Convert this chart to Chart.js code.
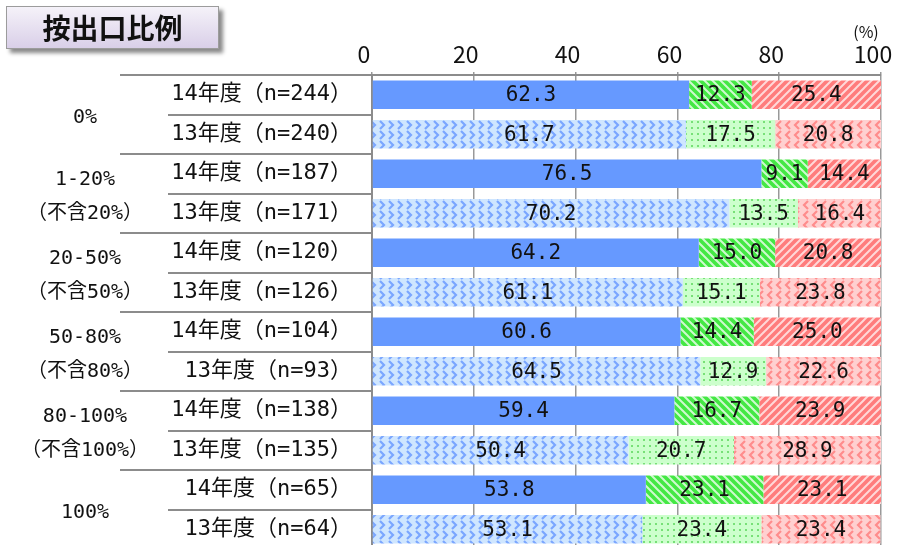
<!DOCTYPE html>
<html>
<head>
<meta charset="utf-8">
<script src="https://cdn.jsdelivr.net/npm/chart.js@4"></script>
<style>
  html, body { margin: 0; padding: 0; background: #fff; overflow: hidden; width: 899px; height: 545px; }
  #chart { position: absolute; left: 0; top: 0; }
  .title {
    position: absolute; left: 6px; top: 6px; width: 211px; height: 41px;
    border: 1px solid #9c9c9c;
    background: linear-gradient(#f5f2f9, #d9cfe8);
    box-shadow: 4px 4px 4px #8a8a8a;
    font: bold 28px "Noto Sans CJK JP", sans-serif;
    line-height: 41px; text-align: center; color: #111; z-index: 2;
  }
</style>
</head>
<body>
<div class="title">按出口比例</div>
<canvas id="chart" width="899" height="560"></canvas>
<script>
const rowLabels = [
  '14年度（n=244）', '13年度（n=240）',
  '14年度（n=187）', '13年度（n=171）',
  '14年度（n=120）', '13年度（n=126）',
  '14年度（n=104）', '13年度（n=93）',
  '14年度（n=138）', '13年度（n=135）',
  '14年度（n=65）', '13年度（n=64）'
];
const groupLabels = [
  ['0%'],
  ['1-20%', '（不含20%）'],
  ['20-50%', '（不含50%）'],
  ['50-80%', '（不含80%）'],
  ['80-100%', '（不含100%）'],
  ['100%']
];
const seriesA = [62.3, 61.7, 76.5, 70.2, 64.2, 61.1, 60.6, 64.5, 59.4, 50.4, 53.8, 53.1];
const seriesB = [12.3, 17.5, 9.1, 13.5, 15.0, 15.1, 14.4, 12.9, 16.7, 20.7, 23.1, 23.4];
const seriesC = [25.4, 20.8, 14.4, 16.4, 20.8, 23.8, 25.0, 22.6, 23.9, 28.9, 23.1, 23.4];
const xTicks = [0, 20, 40, 60, 80, 100];

const canvas = document.getElementById('chart');
const ctx = canvas.getContext('2d');

function makePattern(w, h, base, draw) {
  const c = document.createElement('canvas');
  c.width = w; c.height = h;
  const g = c.getContext('2d');
  g.fillStyle = base;
  g.fillRect(0, 0, w, h);
  draw(g);
  return ctx.createPattern(c, 'repeat');
}

// 14年度 / 13年度 fills
const blueSolid = '#6699ff';
const blueChevron = makePattern(9, 10, '#cfe6ff', g => {
  g.strokeStyle = '#7aa6ff'; g.lineWidth = 2.2;
  g.beginPath(); g.moveTo(2, 1); g.lineTo(6, 5); g.lineTo(2, 9); g.stroke();
});
const greenStripe = makePattern(8, 8, '#44e844', g => {
  g.strokeStyle = 'rgba(255,255,255,0.75)'; g.lineWidth = 2;
  g.beginPath(); g.moveTo(0, 0); g.lineTo(8, 8);
  g.moveTo(-4, 4); g.lineTo(4, 12); g.moveTo(4, -4); g.lineTo(12, 4); g.stroke();
});
const greenDots = makePattern(6, 6, '#ccffcc', g => {
  g.fillStyle = '#77e077'; g.fillRect(1, 1, 2, 2);
});
const redStripe = makePattern(8, 8, '#ff7c7c', g => {
  g.strokeStyle = 'rgba(255,255,255,0.7)'; g.lineWidth = 2;
  g.beginPath(); g.moveTo(0, 8); g.lineTo(8, 0);
  g.moveTo(-4, 4); g.lineTo(4, -4); g.moveTo(4, 12); g.lineTo(12, 4); g.stroke();
});
const redChevron = makePattern(9, 10, '#ffd0d0', g => {
  g.strokeStyle = '#ff8c8c'; g.lineWidth = 2.2;
  g.beginPath(); g.moveTo(7, 1); g.lineTo(3, 5); g.lineTo(7, 9); g.stroke();
});

const alt = (a, b) => rowLabels.map((_, i) => i % 2 === 0 ? a : b);

const monoFont = '"DejaVu Sans Mono", "Noto Sans CJK JP", sans-serif';

// 数値ラベル
const valueLabels = {
  id: 'valueLabels',
  afterDatasetsDraw(chart) {
    const c = chart.ctx;
    c.save();
    c.font = '21px ' + monoFont;
    c.fillStyle = '#111';
    c.textAlign = 'center';
    c.textBaseline = 'middle';
    chart.data.datasets.forEach((ds, di) => {
      chart.getDatasetMeta(di).data.forEach((bar, i) => {
        c.fillText(ds.data[i].toFixed(1), (bar.x + bar.base) / 2, bar.y + 1);
      });
    });
    c.restore();
  }
};

// 左側の区切り線とグループ名
const leftTable = {
  id: 'leftTable',
  afterDraw(chart) {
    const c = chart.ctx;
    const y = chart.scales.y;
    const left = chart.chartArea.left;
    const step = y.getPixelForValue(1) - y.getPixelForValue(0);
    c.save();
    c.strokeStyle = '#8c8c8c';
    c.lineWidth = 2;
    for (let i = 0; i <= rowLabels.length; i++) {
      const py = Math.round(y.getPixelForValue(i) - step / 2);
      c.beginPath();
      c.moveTo(i % 2 === 0 ? 120 : 168, py);
      c.lineTo(left, py);
      c.stroke();
    }
    c.font = '20px ' + monoFont;
    c.fillStyle = '#111';
    c.textAlign = 'center';
    c.textBaseline = 'middle';
    groupLabels.forEach((lines, gi) => {
      const cy = (y.getPixelForValue(gi * 2) + y.getPixelForValue(gi * 2 + 1)) / 2;
      const off = lines.length === 1 ? [3] : [-14, 20];
      lines.forEach((t, li) => c.fillText(t, 85, cy + off[li]));
    });
    c.font = '16px "Noto Sans CJK JP", sans-serif';
    c.fillText('(%)', 866, 32);
    c.restore();
  }
};

new Chart(ctx, {
  type: 'bar',
  data: {
    labels: rowLabels,
    datasets: [
      { data: seriesA, backgroundColor: alt(blueSolid, blueChevron) },
      { data: seriesB, backgroundColor: alt(greenStripe, greenDots) },
      { data: seriesC, backgroundColor: alt(redStripe, redChevron) }
    ]
  },
  options: {
    indexAxis: 'y',
    responsive: false,
    animation: false,
    events: [],
    layout: { padding: { left: 0, right: 18, top: 0, bottom: 11 } },
    datasets: { bar: { barPercentage: 0.72, categoryPercentage: 1, borderWidth: 0 } },
    plugins: { legend: { display: false }, tooltip: { enabled: false } },
    scales: {
      x: {
        position: 'top',
        stacked: true,
        min: 0,
        max: 100,
        afterBuildTicks(scale) { scale.ticks = xTicks.map(v => ({ value: v })); },
        afterFit(scale) { scale.height = 75; scale.paddingLeft = 0; scale.paddingRight = 0; },
        ticks: { color: '#111', font: { family: '"Noto Sans CJK JP", sans-serif', size: 23 }, padding: 4, maxRotation: 0, labelOffset: -8 },
        grid: { color: '#999', lineWidth: 1.5, drawTicks: true, tickLength: 3 },
        border: { color: '#8c8c8c', width: 2 }
      },
      y: {
        stacked: true,
        afterFit(scale) { scale.width = 372; scale.paddingTop = 0; scale.paddingBottom = 0; },
        ticks: { color: '#111', font: { family: monoFont, size: 22 }, padding: 15 },
        grid: { drawOnChartArea: false, drawTicks: true, tickLength: 5, color: '#8c8c8c', lineWidth: 1.5 },
        border: { color: '#8c8c8c', width: 2 }
      }
    }
  },
  plugins: [valueLabels, leftTable]
});
</script>
</body>
</html>
